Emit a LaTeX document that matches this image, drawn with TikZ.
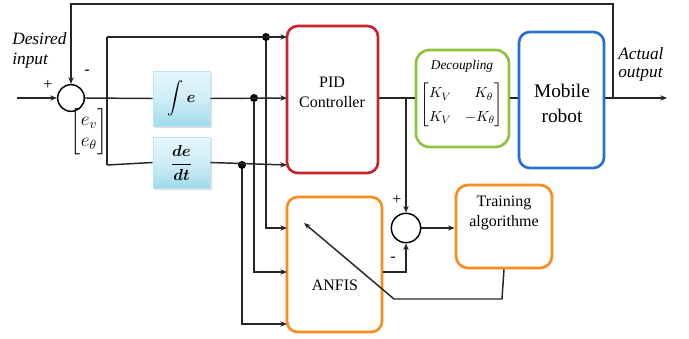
\documentclass[tikz,border=0pt]{standalone}
\usepackage{amsmath}
\usepackage{fontspec}
\setmainfont{Liberation Serif}
\newfontfamily\tnr{Liberation Serif}
\usetikzlibrary{arrows.meta,shadows}
\definecolor{pidred}{RGB}{196,38,45}
\definecolor{decgreen}{RGB}{141,196,63}
\definecolor{robblue}{RGB}{40,112,208}
\definecolor{anforange}{RGB}{250,140,30}
\definecolor{blkA}{RGB}{228,247,252}
\definecolor{blkB}{RGB}{160,218,235}
\begin{document}
\begin{tikzpicture}[x=0.75pt,y=-0.75pt,
  wire/.style={line width=1.1pt, draw=black!85},
  arr/.style={wire, -{Stealth[length=5pt,width=4pt]}},
  box/.style={draw, rounded corners=8pt, line width=2pt, inner sep=0pt},
  blk/.style={inner sep=0pt, top color=blkA, bottom color=blkB, middle color=blkA!70!blkB, draw=blkB!70!white, line width=0.6pt,
              drop shadow={opacity=0.25, shadow xshift=1.2pt, shadow yshift=-1.2pt}},
  jdot/.style={circle, fill=black, inner sep=0pt, minimum size=6pt},
  sumc/.style={circle, draw, line width=1.1pt, minimum size=20pt, inner sep=0pt},
  lbl/.style={inner sep=0pt, font=\tnr\fontsize{12}{15}\selectfont}
]
\useasboundingbox (0,0) rectangle (689,339);

% blocks
\node[box, draw=pidred, minimum width=68.25pt, minimum height=110.25pt] (pid) at (332.5,99.5) {};
\node[box, draw=anforange, minimum width=71.25pt, minimum height=101.25pt] (anfis) at (334.5,264.5) {};
\node[box, draw=anforange, minimum width=72pt, minimum height=62.25pt, rounded corners=9pt] (train) at (504,226.5) {};
\node[box, draw=decgreen, minimum width=69.75pt, minimum height=72.75pt, rounded corners=10pt] (dec) at (462.5,98.5) {};
\node[box, draw=robblue, minimum width=63.75pt, minimum height=102pt] (rob) at (561.5,100) {};
\node[blk, minimum width=42.75pt, minimum height=41.25pt] (int) at (181.5,98.5) {};
\node[blk, minimum width=42.75pt, minimum height=38.25pt] (der) at (181.5,162.5) {};

% block texts
\node[lbl, align=center] (pidt) at (332,92) {PID\\Controller};
\node[lbl] (anfist) at (335,285) {ANFIS};
\node[lbl, align=center] (traint) at (504,213) {Training\\algorithme};
\node[inner sep=0pt, align=center, font=\tnr\fontsize{14.5}{18.75}\selectfont] (robt) at (562,103) {Mobile\\robot};
\node[inner sep=0pt, font=\tnr\fontsize{10}{12}\selectfont\itshape] (dect) at (462,66) {Decoupling};
\node[inner sep=0pt, font=\fontsize{11}{13}\selectfont] (mat) at (462,105)
  {$\renewcommand{\arraystretch}{1.35}\begin{bmatrix} K_V & \;\;K_\theta\\ K_V & -K_\theta\end{bmatrix}$};
\node[inner sep=0pt, font=\fontsize{13}{16}\selectfont\boldmath] (intt) at (181.5,98.5) {$\displaystyle\int e$};
\node[inner sep=0pt, font=\fontsize{13}{16}\selectfont\boldmath] (dert) at (181.5,162.5) {$\dfrac{de}{dt}$};

% summing junctions
\node[sumc] (s1) at (71,98) {};
\node[sumc, minimum size=22pt] (s2) at (406,228) {};

% signs and labels
\node[lbl] (p1) at (48,85) {+};
\node[lbl] (m1) at (87,72) {-};
\node[lbl] (p2) at (397,200) {+};
\node[lbl] (m2) at (393,259) {-};
\node[inner sep=0pt, anchor=west, align=left, font=\tnr\fontsize{13}{15}\selectfont\itshape] (des) at (12,50) {Desired\\input};
\node[inner sep=0pt, anchor=west, align=left, font=\tnr\fontsize{13}{13.5}\selectfont\itshape] (act) at (618,64) {Actual\\output};
\node[inner sep=0pt, font=\fontsize{14}{16}\selectfont] (vec) at (89,132) {$\begin{bmatrix} e_v\\ e_\theta\end{bmatrix}$};

% coordinates
\coordinate (in) at (17,98);
\coordinate (bT) at (107,37);
\coordinate (bB) at (107,165);
\coordinate (pidT) at (287,37);
\coordinate (pidM) at (287,98);
\coordinate (pidB) at (287,165);
\coordinate (a1) at (287,228);
\coordinate (a2) at (287,272);
\coordinate (a3) at (287,324);
\coordinate (out) at (667,98);
\coordinate (fb) at (613,98);
\coordinate (brP) at (406,98);
\node[jdot] (d1) at (266,37) {};
\node[jdot] (d2) at (254,98) {};
\node[jdot] (d3) at (242,165) {};

% connectors
\draw[arr] (in) -- (s1.west);
\draw[wire] (s1.east) -- (int.west);
\draw[wire] (bT) -- (bB);
\draw[arr] (bT) -- (pidT);
\draw[wire] (bB) -- (der.west);
\draw[arr] (int.east) -- (pidM);
\draw[arr] (der.east) -- (pidB);
\draw[arr] (d1) |- (a1);
\draw[arr] (d2) |- (a2);
\draw[arr] (d3) |- (a3);
\draw[wire] (pid.east |- brP) -- (dec.west |- brP);
\draw[arr] (brP) -- (s2.north);
\draw[arr] (anfis.east |- a2) -| (s2.south);
\draw[arr] (s2.east) -- (train.west |- s2.east);
\draw[arr] (train.south) -- (502,299) -- (394,299) -- (304,223);
\draw[wire] (dec.east |- brP) -- (rob.west |- brP);
\draw[arr] (rob.east |- brP) -- (out);
\draw[arr] (fb) -- (613,4) -| (s1.north);
\end{tikzpicture}
\end{document}
